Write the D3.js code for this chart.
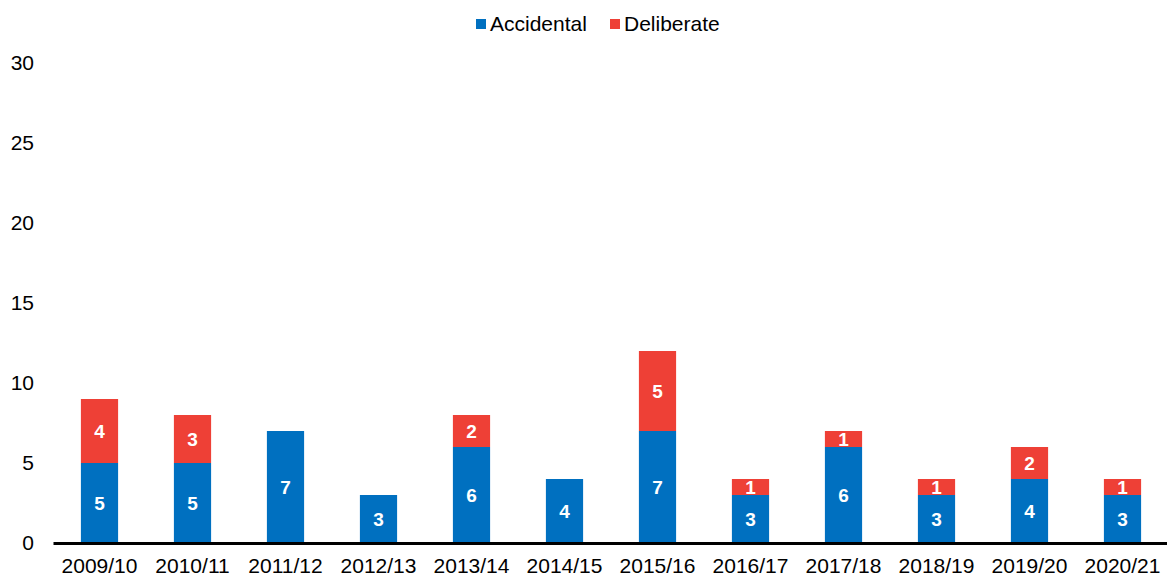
<!DOCTYPE html>
<html>
<head>
<meta charset="utf-8">
<script src="https://cdn.jsdelivr.net/npm/d3@7"></script>
<style>
  body { margin: 0; background: #fff; }
  svg text { font-family: "Liberation Sans", Arial, sans-serif; }
</style>
</head>
<body>
<div id="chart"></div>
<script>
// Data
var years = ["2009/10", "2010/11", "2011/12", "2012/13", "2013/14", "2014/15",
             "2015/16", "2016/17", "2017/18", "2018/19", "2019/20", "2020/21"];
var accidental = [5, 5, 7, 3, 6, 4, 7, 3, 6, 3, 4, 3];
var deliberate = [4, 3, 0, 0, 2, 0, 5, 1, 1, 1, 2, 1];
var seriesNames = ["Accidental", "Deliberate"];
var yTicks = [0, 5, 10, 15, 20, 25, 30];

var colors = { Accidental: "#0070C0", Deliberate: "#EE4036" };

var svgWidth = 1167, svgHeight = 577;

var svg = d3.select("#chart")
  .append("svg")
  .attr("width", svgWidth)
  .attr("height", svgHeight);

// build rows for the stack
var rows = years.map(function (y, i) {
  return { year: y, Accidental: accidental[i], Deliberate: deliberate[i] };
});
var stacked = d3.stack().keys(seriesNames)(rows);

var x = d3.scaleBand()
  .domain(years)
  .range([53, 1169])
  .paddingInner(0.6)
  .paddingOuter(0.3);

var y = d3.scaleLinear()
  .domain([0, 30])
  .range([543, 63]);

// y axis labels only
var yAxis = svg.append("g")
  .attr("transform", "translate(34,0)")
  .call(d3.axisLeft(y).tickValues(yTicks).tickSize(0).tickPadding(0));
yAxis.select(".domain").remove();
yAxis.selectAll("text")
  .attr("font-size", "21px")
  .attr("fill", "#000")
  .attr("font-family", "Liberation Sans, Arial, sans-serif");

// bars
var layers = svg.append("g").selectAll("g")
  .data(stacked)
  .enter()
  .append("g")
  .attr("fill", d => colors[d.key]);

layers.selectAll("rect")
  .data(d => d.filter(p => p[1] - p[0] > 0))
  .enter()
  .append("rect")
  .attr("x", d => x(d.data.year))
  .attr("y", d => y(d[1]))
  .attr("width", x.bandwidth())
  .attr("height", d => y(d[0]) - y(d[1]));

// value labels
layers.selectAll("text")
  .data(d => d.filter(p => p[1] - p[0] > 0))
  .enter()
  .append("text")
  .attr("x", d => x(d.data.year) + x.bandwidth() / 2)
  .attr("y", d => (y(d[0]) + y(d[1])) / 2)
  .attr("dy", "0.36em")
  .attr("text-anchor", "middle")
  .attr("fill", "#fff")
  .attr("font-size", "19px")
  .attr("font-weight", "bold")
  .text(d => d[1] - d[0]);

// x axis
var xAxis = svg.append("g")
  .attr("transform", "translate(0,543)")
  .call(d3.axisBottom(x).tickSize(0).tickPadding(15));
xAxis.select(".domain")
  .attr("stroke", "#000")
  .attr("stroke-width", 3);
xAxis.selectAll("text")
  .attr("font-size", "21px")
  .attr("fill", "#000")
  .attr("font-family", "Liberation Sans, Arial, sans-serif");

// legend
var legendPos = [476, 610];
var legend = svg.append("g").selectAll("g")
  .data(seriesNames)
  .enter()
  .append("g")
  .attr("transform", (d, i) => `translate(${legendPos[i]}, 19)`);
legend.append("rect")
  .attr("width", 10)
  .attr("height", 10)
  .attr("fill", d => colors[d]);
legend.append("text")
  .attr("x", 14)
  .attr("y", 12)
  .attr("font-size", "21px")
  .attr("fill", "#000")
  .text(d => d);
</script>
</body>
</html>
